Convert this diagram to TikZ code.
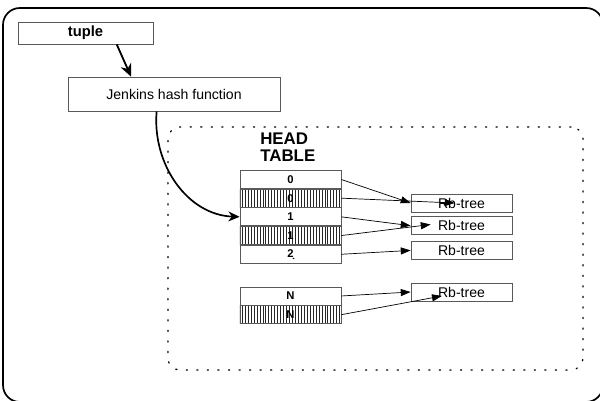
\documentclass[tikz,border=0pt]{standalone}
\usepackage{fontspec}
\setmainfont{Liberation Sans}
\usetikzlibrary{positioning,arrows.meta,patterns.meta}

\tikzset{
  box/.style = {draw=black!65, line width=0.5pt, inner sep=0pt, font=\fontsize{10}{12}\selectfont},
  cell/.style = {draw=black!65, line width=0.5pt, inner sep=0pt, minimum width=2.525cm, minimum height=0.45cm, font=\fontsize{8}{9}\selectfont\bfseries, align=center},
  hatched/.style = {cell, pattern={Lines[angle=90,distance=2.1pt,line width=0.45pt]}, pattern color=black!85},
  rbtree/.style = {box, minimum width=2.525cm, minimum height=0.45cm},
  ptr/.style = {-{Triangle[length=7pt,width=5pt]}, line width=0.5pt},
}

\begin{document}
\begin{tikzpicture}[x=0.025cm, y=-0.025cm]
  \useasboundingbox (0,0) rectangle (600,401);
  \clip (0,0) rectangle (600,401);

  % frame round everything
  \draw[line width=1.2pt, rounded corners=0.42cm] (3,8) rectangle (603,402);

  \node[box, font=\fontsize{10.5}{12}\selectfont\bfseries, minimum width=3.375cm, minimum height=0.55cm] (tuple) at (85.5,33) {tuple};
  \node[box, minimum width=5.3cm, minimum height=0.85cm] (jenkins) at (174,94) {Jenkins hash function};

  \draw[-{Stealth[length=9pt,width=8pt]}, line width=1.3pt] (tuple.-20) -- (jenkins.158);

  % dotted region holding the head table
  \node[draw, dash pattern=on 0.9pt off 6.6pt, line cap=round, line width=0.9pt, rounded corners=0.3cm,
        minimum width=10.375cm, minimum height=6.075cm] (region) at (375.5,248.5) {};
  \node[anchor=west, align=left, inner sep=0pt, font=\fontsize{12}{12.5}\selectfont\bfseries] (headlabel) at (260,147) {HEAD\\TABLE};

  % head table
  \node[cell] (h0) at (290.5,179.5) {0};
  \node[hatched, below=0pt of h0] (h0b) {0};
  \node[cell, below=0pt of h0b] (h1) {1};
  \node[hatched, below=0pt of h1] (h1b) {1};
  \node[cell, below=0pt of h1b] (h2) {\d{2}};
  \node[cell, below=0.575cm of h2] (hN) {N};
  \node[hatched, below=0pt of hN] (hNb) {N};

  % trees
  \node[rbtree] (rb0) at (461.5,203) {Rb-tree};
  \node[rbtree, below=0.1cm of rb0] (rb1) {Rb-tree};
  \node[rbtree, below=0.15cm of rb1] (rb2) {Rb-tree};
  \node[rbtree] (rbN) at (461.5,292) {Rb-tree};

  \coordinate (rb0in) at ([xshift=1.1cm]rb0.west);
  \coordinate (rb1in) at ([xshift=0.5cm,yshift=0.03cm]rb1.west);
  \coordinate (rbNin) at ([xshift=0.78cm,yshift=-0.1cm]rbN.west);

  \draw[-{Stealth[length=8pt,width=7pt]}, line width=1.2pt] (jenkins.-135) to[out=-95,in=178] (h1.west);

  \draw[ptr] (h0.east) -- (rb0.west);
  \draw[ptr] (h0b.east) -- (rb0in);
  \draw[ptr] (h1.east) -- (rb1.west);
  \draw[ptr] (h1b.east) -- (rb1in);
  \draw[ptr] (h2.east) -- (rb2.west);
  \draw[ptr] (hN.east) -- (rbN.west);
  \draw[ptr] (hNb.east) -- (rbNin);
\end{tikzpicture}
\end{document}
